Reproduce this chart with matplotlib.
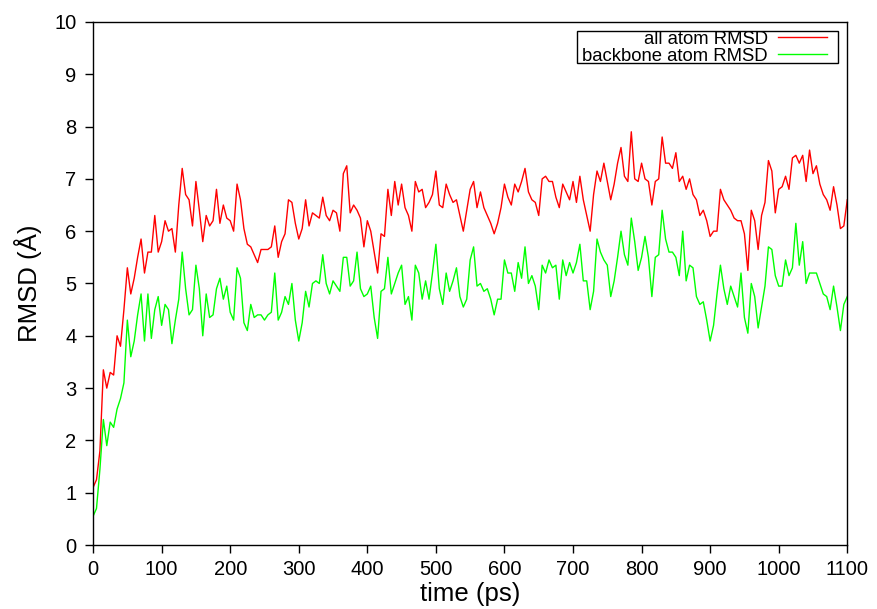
import numpy as np
import matplotlib
matplotlib.use('Agg')
import matplotlib.pyplot as plt
from matplotlib.patches import Rectangle

# RMSD of the trajectory, read every 5 ps (0 - 1100 ps)
TIME_STEP = 5
all_atom_rmsd = [
    1.1, 1.25, 1.8, 3.35, 3.0, 3.3, 3.25, 4.0, 3.8, 4.5,
    5.3, 4.8, 5.1, 5.5, 5.85, 5.2, 5.6, 5.6, 6.3, 5.6,
    5.8, 6.2, 6.0, 6.05, 5.6, 6.5, 7.2, 6.7, 6.6, 6.1,
    6.95, 6.4, 5.8, 6.3, 6.1, 6.2, 6.8, 6.15, 6.5, 6.25,
    6.2, 6.0, 6.9, 6.6, 6.05, 5.75, 5.7, 5.55, 5.4, 5.65,
    5.65, 5.65, 5.7, 6.1, 5.5, 5.8, 5.95, 6.6, 6.55, 6.15,
    5.85, 6.05, 6.6, 6.1, 6.35, 6.3, 6.25, 6.65, 6.3, 6.2,
    6.4, 6.35, 6.0, 7.1, 7.25, 6.35, 6.5, 6.4, 6.25, 5.7,
    6.2, 6.0, 5.6, 5.2, 5.95, 5.9, 6.8, 6.3, 6.95, 6.5,
    6.9, 6.45, 6.3, 6.0, 6.95, 6.75, 6.8, 6.45, 6.55, 6.7,
    7.15, 6.5, 6.45, 6.9, 6.7, 6.55, 6.6, 6.3, 6.0, 6.4,
    6.8, 6.95, 6.45, 6.75, 6.45, 6.3, 6.15, 5.95, 6.15, 6.45,
    6.9, 6.65, 6.5, 6.9, 6.75, 6.95, 7.2, 6.75, 6.6, 6.55,
    6.3, 7.0, 7.05, 6.95, 6.95, 6.65, 6.45, 6.9, 6.75, 6.6,
    6.95, 6.55, 7.05, 6.6, 6.3, 6.0, 6.7, 7.15, 6.95, 7.3,
    6.95, 6.6, 6.9, 7.3, 7.6, 7.05, 6.95, 7.9, 7.0, 6.95,
    7.3, 7.0, 6.95, 6.5, 6.95, 7.0, 7.8, 7.3, 7.3, 7.2,
    7.5, 6.95, 7.05, 6.8, 7.0, 6.7, 6.6, 6.3, 6.4, 6.2,
    5.9, 6.0, 6.0, 6.8, 6.6, 6.5, 6.4, 6.25, 6.2, 6.2,
    5.95, 5.25, 6.4, 6.2, 5.65, 6.3, 6.55, 7.35, 7.15, 6.35,
    6.8, 6.85, 7.05, 6.8, 7.4, 7.45, 7.3, 7.45, 6.95, 7.55,
    7.1, 7.25, 6.9, 6.7, 6.6, 6.4, 6.85, 6.5, 6.05, 6.1,
    6.6,
]
backbone_rmsd = [
    0.55, 0.7, 1.45, 2.4, 1.9, 2.35, 2.25, 2.6, 2.8, 3.1,
    4.3, 3.6, 3.9, 4.4, 4.8, 3.9, 4.8, 3.95, 4.5, 4.75,
    4.2, 4.6, 4.5, 3.85, 4.3, 4.7, 5.6, 4.9, 4.4, 4.5,
    5.35, 4.9, 4.0, 4.8, 4.35, 4.4, 4.9, 5.1, 4.7, 4.95,
    4.45, 4.3, 5.3, 5.1, 4.25, 4.1, 4.6, 4.35, 4.4, 4.4,
    4.3, 4.4, 4.45, 5.2, 4.3, 4.45, 4.75, 4.6, 5.0, 4.3,
    3.9, 4.25, 4.85, 4.55, 5.0, 5.05, 5.0, 5.55, 5.0, 4.8,
    5.05, 4.95, 4.85, 5.5, 5.5, 4.95, 5.05, 5.6, 4.9, 4.75,
    4.8, 4.95, 4.35, 3.95, 4.85, 4.9, 5.5, 4.8, 5.0, 5.2,
    5.35, 4.6, 4.75, 4.3, 5.35, 5.2, 4.7, 5.05, 4.7, 5.2,
    5.75, 4.9, 4.6, 5.2, 4.85, 5.05, 5.3, 4.75, 4.55, 4.7,
    5.45, 5.7, 4.95, 5.0, 4.85, 4.9, 4.7, 4.4, 4.7, 4.7,
    5.45, 5.2, 5.2, 4.85, 5.4, 5.1, 5.7, 5.0, 5.15, 4.95,
    4.5, 5.35, 5.2, 5.45, 5.3, 5.35, 4.7, 5.45, 5.15, 5.4,
    5.2, 5.4, 5.75, 5.05, 5.05, 4.5, 4.85, 5.85, 5.6, 5.45,
    5.35, 4.75, 5.05, 5.5, 6.0, 5.55, 5.35, 6.25, 5.8, 5.25,
    5.5, 5.9, 5.5, 4.75, 5.5, 5.55, 6.4, 5.85, 5.6, 5.6,
    5.5, 5.15, 6.0, 5.05, 5.35, 5.3, 4.75, 4.6, 4.65, 4.3,
    3.9, 4.2, 4.8, 5.35, 4.9, 4.6, 4.95, 4.75, 4.55, 5.2,
    4.35, 4.05, 5.0, 4.75, 4.15, 4.55, 4.95, 5.7, 5.65, 5.15,
    4.95, 4.95, 5.45, 5.15, 5.3, 6.15, 5.35, 5.8, 5.0, 5.2,
    5.2, 5.2, 5.0, 4.8, 4.75, 4.5, 4.95, 4.55, 4.1, 4.6,
    4.75,
]
series_labels = ['all atom RMSD', 'backbone atom RMSD']
series_colors = ['#ff0000', '#00ff00']
x_ticks = [0, 100, 200, 300, 400, 500, 600, 700, 800, 900, 1000, 1100]
y_ticks = [0, 1, 2, 3, 4, 5, 6, 7, 8, 9, 10]

time_ps = np.arange(len(all_atom_rmsd)) * TIME_STEP

plt.rcParams['font.family'] = ['Liberation Sans', 'DejaVu Sans']

fig = plt.figure(figsize=(8.78, 6.09), dpi=100)
ax = fig.add_axes([0.106, 0.105, 0.859, 0.859])

for vals, lab, col in zip([all_atom_rmsd, backbone_rmsd], series_labels, series_colors):
    ax.plot(time_ps, vals, color=col, lw=1.0, label=lab)

ax.set_xlim(0, 1100)
ax.set_ylim(0, 10)
ax.set_xticks(x_ticks)
ax.set_yticks(y_ticks)
ax.tick_params(direction='out', length=6, width=1, labelsize=14.5)
ax.tick_params(axis='x', pad=5)
ax.tick_params(axis='y', pad=6)
for s in ax.spines.values():
    s.set_linewidth(1.0)

ax.set_xlabel('time (ps)', fontsize=18.5, labelpad=2)
ax.set_ylabel('RMSD (Å)', fontsize=18.5, labelpad=9)

# gnuplot style key: text right aligned, sample line on the right
ax.add_patch(Rectangle((0.642, 0.9216), 0.346, 0.0614, transform=ax.transAxes,
                       facecolor='white', edgecolor='black', lw=1.0, zorder=5))
for i, (lab, col) in enumerate(zip(series_labels, series_colors)):
    base = 0.958 - i * 0.032
    ax.text(0.895, base, lab, transform=ax.transAxes, ha='right', va='baseline',
            fontsize=13.3, zorder=6)
    ax.plot([0.9085, 0.9735], [base + 0.0125] * 2, transform=ax.transAxes,
            color=col, lw=1.0, zorder=6)

fig.savefig('out.png', dpi=100)
